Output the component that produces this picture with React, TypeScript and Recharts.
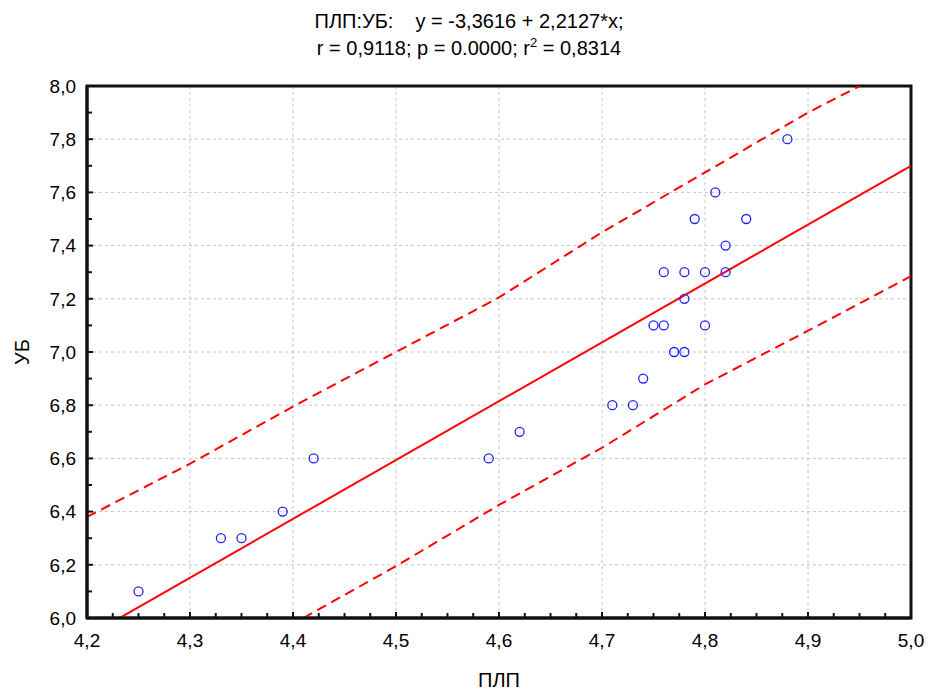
import React from 'react';
import {
  ComposedChart,
  Scatter,
  Line,
  XAxis,
  YAxis,
  CartesianGrid,
  ReferenceArea,
} from 'recharts';

// observed points (ПЛП, УБ)
const plpValues = [
  4.25, 4.33, 4.35, 4.39, 4.42, 4.59, 4.62, 4.71, 4.73, 4.74, 4.75, 4.76, 4.77,
  4.78, 4.76, 4.78, 4.78, 4.8, 4.8, 4.82, 4.82, 4.79, 4.84, 4.81, 4.88,
];
const ubValues = [
  6.1, 6.3, 6.3, 6.4, 6.6, 6.6, 6.7, 6.8, 6.8, 6.9, 7.1, 7.1, 7.0,
  7.0, 7.3, 7.2, 7.3, 7.3, 7.1, 7.3, 7.4, 7.5, 7.5, 7.6, 7.8,
];

// regression line ends
const fitX = [4.2, 5.0];
const fitY = [5.93, 7.7];

// dashed 95% bands
const upperX = [4.2, 4.3, 4.4, 4.5, 4.6, 4.7, 4.8, 4.9, 4.95];
const upperY = [6.38, 6.58, 6.795, 7.0, 7.205, 7.45, 7.675, 7.9, 8.0];
const lowerX = [4.41, 4.5, 4.6, 4.7, 4.8, 4.9, 5.0];
const lowerY = [6.0, 6.195, 6.425, 6.64, 6.878, 7.08, 7.285];

const xMajorTicks = [4.2, 4.3, 4.4, 4.5, 4.6, 4.7, 4.8, 4.9, 5.0];
const yMajorTicks = [6.0, 6.2, 6.4, 6.6, 6.8, 7.0, 7.2, 7.4, 7.6, 7.8, 8.0];

const FONT = '"Liberation Sans", Arial, sans-serif';
const X_MARGIN = 16;
const Y_MARGIN = 11;
const INK = '#111111';

const zip = (xs: number[], ys: number[]) => xs.map((x, i) => ({ x, y: ys[i] }));

const points = zip(plpValues, ubValues);
const fitLine = zip(fitX, fitY);
const upperBand = zip(upperX, upperY);
const lowerBand = zip(lowerX, lowerY);

// major ticks plus evenly spaced minor ticks in between
function withMinor(major: number[], parts: number) {
  const out: number[] = [];
  for (let i = 0; i < major.length - 1; i++) {
    const step = (major[i + 1] - major[i]) / parts;
    for (let k = 0; k < parts; k++) out.push(major[i] + k * step);
  }
  out.push(major[major.length - 1]);
  return out;
}

const xAllTicks = withMinor(xMajorTicks, 4);
const yAllTicks = withMinor(yMajorTicks, 2);

const isMajor = (v: number, unit: number) =>
  Math.abs(v / unit - Math.round(v / unit)) < 1e-6;

const fmt = (v: number) => v.toFixed(1).replace('.', ',');

const Circle = (props: any) => {
  const { cx, cy } = props;
  return <circle cx={cx} cy={cy} r={4.5} fill="none" stroke="#2020ff" strokeWidth={1.3} />;
};

// ticks point into the plot; labels only on the major ones
const BottomTick = (props: any) => {
  const { x, y, payload } = props;
  const major = isMajor(payload.value, 0.1);
  const ay = y - X_MARGIN;
  return (
    <g>
      <path d={`M${x},${ay}V${ay - (major ? 6 : 5)}`} stroke={INK} strokeWidth={2} />
      {major && (
        <text x={x} y={y} dy="0.71em" textAnchor="middle" fill="#000" fontSize={19}>
          {fmt(payload.value)}
        </text>
      )}
    </g>
  );
};

const LeftTick = (props: any) => {
  const { x, y, payload } = props;
  const major = isMajor(payload.value, 0.2);
  const ax = x + Y_MARGIN;
  return (
    <g>
      <path d={`M${ax},${y}H${ax + (major ? 6 : 5)}`} stroke={INK} strokeWidth={2} />
      {major && (
        <text x={x} y={y} dy="0.355em" textAnchor="end" fill="#000" fontSize={19}>
          {fmt(payload.value)}
        </text>
      )}
    </g>
  );
};

const TopTick = (props: any) => {
  const { x, y, payload } = props;
  const major = isMajor(payload.value, 0.1);
  return <path d={`M${x},${y}V${y + (major ? 6 : 5)}`} stroke={INK} strokeWidth={2} />;
};

const RightTick = (props: any) => {
  const { x, y, payload } = props;
  const major = isMajor(payload.value, 0.2);
  return <path d={`M${x},${y}H${x - (major ? 6 : 5)}`} stroke={INK} strokeWidth={2} />;
};

export default function App() {
  return (
    <div
      style={{
        position: 'absolute',
        left: 0,
        top: 0,
        width: 929,
        height: 691,
        background: '#fff',
        fontFamily: FONT,
      }}
    >
      {/* Title */}
      <div
        style={{
          position: 'absolute',
          left: 0,
          top: 8,
          width: 938,
          textAlign: 'center',
          fontSize: 20,
          lineHeight: '27px',
          color: '#000',
          whiteSpace: 'pre',
        }}
      >
        <div>{'ПЛП:УБ:    y = -3,3616 + 2,2127*x;'}</div>
        <div>
          r = 0,9118; p = 0.0000; r<sup style={{ fontSize: 13, lineHeight: 0 }}>2</sup> = 0,8314
        </div>
      </div>

      <ComposedChart
        width={929}
        height={691}
        margin={{ top: 86, right: 18, left: 0, bottom: 0 }}
        style={{ fontFamily: FONT }}
      >
        <CartesianGrid
          stroke="#c4c4c4"
          strokeDasharray="3 3"
          verticalValues={xMajorTicks}
          horizontalValues={yMajorTicks}
        />

        <XAxis
          dataKey="x"
          type="number"
          domain={[4.2, 5.0]}
          allowDataOverflow
          ticks={xAllTicks}
          interval={0}
          tickLine={false}
          tickSize={0}
          tickMargin={X_MARGIN}
          height={73}
          axisLine={{ stroke: INK, strokeWidth: 3 }}
          tick={<BottomTick />}
          label={{
            value: 'ПЛП',
            position: 'insideBottom',
            offset: 4,
            style: { fill: '#000', fontSize: 20 },
          }}
        />
        <XAxis
          xAxisId="top"
          orientation="top"
          type="number"
          domain={[4.2, 5.0]}
          allowDataOverflow
          ticks={xAllTicks}
          interval={0}
          tickLine={false}
          tickSize={0}
          tickMargin={0}
          height={0}
          axisLine={{ stroke: INK, strokeWidth: 3 }}
          tick={<TopTick />}
        />

        <YAxis
          type="number"
          domain={[6.0, 8.0]}
          allowDataOverflow
          ticks={yAllTicks}
          interval={0}
          tickLine={false}
          tickSize={0}
          tickMargin={Y_MARGIN}
          width={87}
          axisLine={{ stroke: INK, strokeWidth: 3 }}
          tick={<LeftTick />}
          label={{
            value: 'УБ',
            angle: -90,
            position: 'insideLeft',
            offset: 22,
            style: { fill: '#000', fontSize: 20, textAnchor: 'middle' },
          }}
        />
        <YAxis
          yAxisId="right"
          orientation="right"
          type="number"
          domain={[6.0, 8.0]}
          allowDataOverflow
          ticks={yAllTicks}
          interval={0}
          tickLine={false}
          tickSize={0}
          tickMargin={0}
          width={0}
          axisLine={{ stroke: INK, strokeWidth: 3 }}
          tick={<RightTick />}
        />

        <Line
          data={upperBand}
          dataKey="y"
          type="linear"
          stroke="#ff0000"
          strokeWidth={2}
          strokeDasharray="10 6"
          dot={false}
          activeDot={false}
          isAnimationActive={false}
        />
        <Line
          data={lowerBand}
          dataKey="y"
          type="linear"
          stroke="#ff0000"
          strokeWidth={2}
          strokeDasharray="10 6"
          dot={false}
          activeDot={false}
          isAnimationActive={false}
        />
        <Line
          data={fitLine}
          dataKey="y"
          type="linear"
          stroke="#ff0000"
          strokeWidth={2}
          dot={false}
          activeDot={false}
          isAnimationActive={false}
        />
        <Scatter data={points} dataKey="y" shape={<Circle />} isAnimationActive={false} />

        {/* plot frame */}
        <ReferenceArea
          x1={4.2}
          x2={5.0}
          y1={6.0}
          y2={8.0}
          fill="none"
          stroke={INK}
          strokeWidth={3}
          ifOverflow="visible"
        />
      </ComposedChart>
    </div>
  );
}
